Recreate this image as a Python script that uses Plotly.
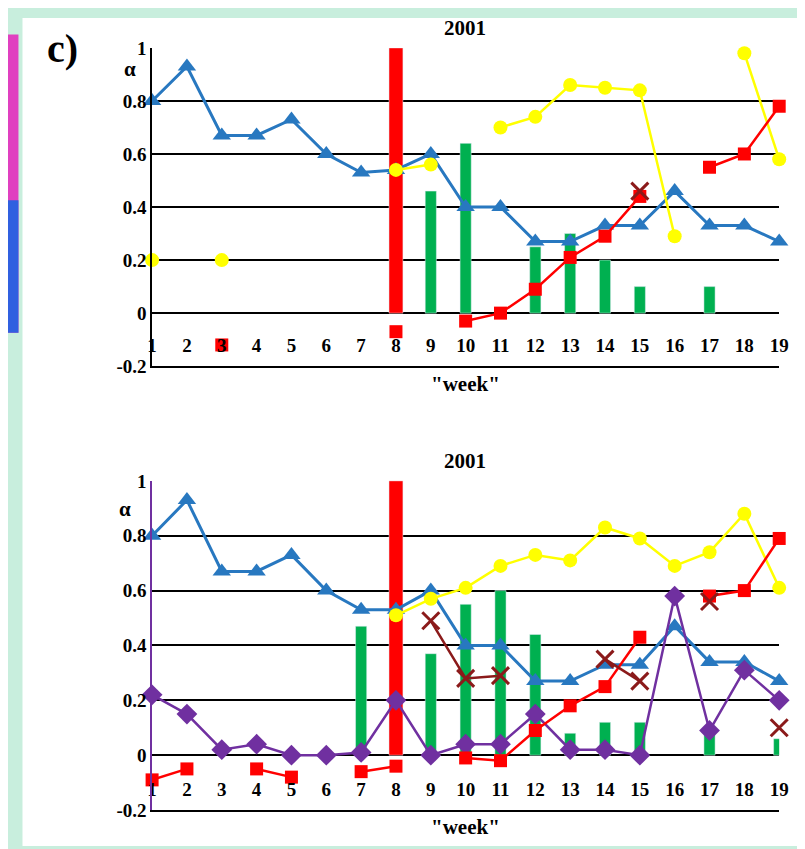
import plotly.graph_objects as go

weeks = list(range(1, 20))
week_labels = [str(w) for w in weeks]
y_ticks = [1, 0.8, 0.6, 0.4, 0.2, 0, -0.2]
y_tick_text = ["1", "0.8", "0.6", "0.4", "0.2", "0", "-0.2"]

# --- верхний график ---
top_blue = [0.80, 0.93, 0.67, 0.67, 0.73, 0.60, 0.53, 0.54, 0.60, 0.40,
            0.40, 0.27, 0.27, 0.33, 0.33, 0.46, 0.33, 0.33, 0.27]
top_yellow = [0.20, None, 0.20, None, None, None, None, 0.54, 0.56, None,
              0.70, 0.74, 0.86, 0.85, 0.84, 0.29, None, 0.98, 0.58]
top_red = [None, None, -0.12, None, None, None, None, -0.07, None, -0.03,
           0.00, 0.09, 0.21, 0.29, 0.44, None, 0.55, 0.60, 0.78]
top_cross = [None] * 14 + [0.46] + [None] * 4
top_red_bar = [None] * 7 + [1.0] + [None] * 11
top_green = [None] * 8 + [0.46, 0.64, None, 0.25, 0.30, 0.20, 0.10, None, 0.10, None, None]

# --- нижний график ---
bot_blue = [0.80, 0.93, 0.67, 0.67, 0.73, 0.60, 0.53, 0.53, 0.60, 0.40,
            0.40, 0.27, 0.27, 0.33, 0.33, 0.47, 0.34, 0.34, 0.27]
bot_yellow = [None] * 7 + [0.51, 0.57, 0.61, 0.69, 0.73, 0.71, 0.83, 0.79, 0.69, 0.74, 0.88, 0.61]
bot_red = [-0.09, -0.05, None, -0.05, -0.08, None, -0.06, -0.04, None, -0.01,
           -0.02, 0.09, 0.18, 0.25, 0.43, None, 0.58, 0.60, 0.79]
bot_cross = [None] * 8 + [0.49, 0.28, 0.29, None, None, 0.35, 0.27, None, 0.56, None, 0.10]
bot_purple = [0.22, 0.15, 0.02, 0.04, 0.00, 0.00, 0.01, 0.20, 0.00, 0.04,
              0.04, 0.15, 0.02, 0.02, 0.00, 0.58, 0.09, 0.31, 0.20]
bot_red_bar = [None] * 7 + [1.0] + [None] * 11
bot_green = [None] * 6 + [0.47, None, 0.37, 0.55, 0.60, 0.44, 0.08, 0.12, 0.12, None, 0.10, None, 0.06]

BLUE = "#2878C0"
YELLOW = "#FFFF00"
RED = "#FF0000"
GREEN = "#00B050"
DARKRED = "#8B1A1A"
PURPLE = "#7030A0"
FONT = "Liberation Serif"

fig = go.Figure()


def add_panel(xa, ya, red_bar, green, blue, yellow, red, cross, purple=None):
    kw = dict(xaxis=xa, yaxis=ya, showlegend=False, hoverinfo="skip", cliponaxis=False)
    fig.add_trace(go.Bar(x=weeks, y=green, marker_color=GREEN, width=0.32, **kw))
    fig.add_trace(go.Bar(x=weeks, y=red_bar, marker_color=RED, width=0.4, **kw))
    fig.add_trace(go.Scatter(x=weeks, y=blue, mode="lines+markers",
                             line=dict(color=BLUE, width=3),
                             marker=dict(symbol="triangle-up", size=16, color=BLUE), **kw))
    fig.add_trace(go.Scatter(x=weeks, y=yellow, mode="lines+markers", connectgaps=False,
                             line=dict(color=YELLOW, width=2.5),
                             marker=dict(symbol="circle", size=14, color=YELLOW), **kw))
    if purple is not None:
        fig.add_trace(go.Scatter(x=weeks, y=purple, mode="lines+markers",
                                 line=dict(color=PURPLE, width=2.5),
                                 marker=dict(symbol="diamond", size=16, color=PURPLE), **kw))
    fig.add_trace(go.Scatter(x=weeks, y=red, mode="lines+markers", connectgaps=False,
                             line=dict(color=RED, width=2.5),
                             marker=dict(symbol="square", size=13, color=RED), **kw))
    fig.add_trace(go.Scatter(x=weeks, y=cross, mode="lines+markers", connectgaps=False,
                             line=dict(color=DARKRED, width=2.5),
                             marker=dict(symbol="x-thin-open", size=17,
                                         line=dict(color=DARKRED, width=3)), **kw))
    # подписи недель на уровне -0.12
    fig.add_trace(go.Scatter(x=weeks, y=[-0.13] * len(weeks), mode="text", text=week_labels,
                             textfont=dict(family=FONT, size=19, color="black", weight="bold"), **kw))


add_panel("x", "y", top_red_bar, top_green, top_blue, top_yellow, top_red, top_cross)
add_panel("x2", "y2", bot_red_bar, bot_green, bot_blue, bot_yellow, bot_red, bot_cross, bot_purple)

xcommon = dict(range=[1, 19], showgrid=False, showticklabels=False, zeroline=False,
               showline=True, linecolor="black", linewidth=1.5, domain=[0.179, 0.958])
ycommon = dict(range=[-0.2, 1], tickvals=y_ticks, ticktext=y_tick_text, showgrid=True,
               gridcolor="black", gridwidth=1.5, zeroline=False, showline=True, linewidth=1.5,
               ticks="", tickfont=dict(family=FONT, size=19, color="black", weight="bold"))

ann_font = dict(family=FONT, size=21, color="black", weight="bold")

fig.update_layout(
    width=805, height=849,
    margin=dict(l=0, r=0, t=0, b=0),
    paper_bgcolor="#C8EEDD",
    plot_bgcolor="white",
    barmode="overlay",
    xaxis=dict(anchor="y", **xcommon),
    yaxis=dict(anchor="x", domain=[0.5795, 0.9639], linecolor="black", **ycommon),
    xaxis2=dict(anchor="y2", **xcommon),
    yaxis2=dict(anchor="x2", domain=[0.0434, 0.4410], linecolor=PURPLE, **ycommon),
    shapes=[
        dict(type="rect", xref="paper", yref="paper", x0=0.018, x1=0.985, y0=0.0, y1=1.0,
             fillcolor="white", line=dict(width=0), layer="below"),
        dict(type="rect", xref="paper", yref="paper", x0=-0.01, x1=0.013, y0=0.62, y1=0.98,
             fillcolor="#E040C0", line=dict(width=0), layer="below"),
        dict(type="rect", xref="paper", yref="paper", x0=-0.01, x1=0.013, y0=0.62, y1=0.78,
             fillcolor="#3060E0", line=dict(width=0), layer="below"),
    ],
    annotations=[
        dict(text="c)", x=0.046, y=0.993, xref="paper", yref="paper", showarrow=False,
             font=dict(family=FONT, size=40, color="black", weight="bold")),
        dict(text="2001", x=0.568, y=1.005, xref="paper", yref="paper", showarrow=False, font=ann_font),
        dict(text="2001", x=0.568, y=0.465, xref="paper", yref="paper", showarrow=False, font=ann_font),
        dict(text='"week"', x=0.568, y=0.558, xref="paper", yref="paper", showarrow=False, font=ann_font),
        dict(text='"week"', x=0.568, y=0.006, xref="paper", yref="paper", showarrow=False, font=ann_font),
        dict(text="α", x=0.142, y=0.955, xref="paper", yref="paper", showarrow=False, font=ann_font),
        dict(text="α", x=0.135, y=0.407, xref="paper", yref="paper", showarrow=False, font=ann_font),
    ],
)

fig.write_html("out.html")
